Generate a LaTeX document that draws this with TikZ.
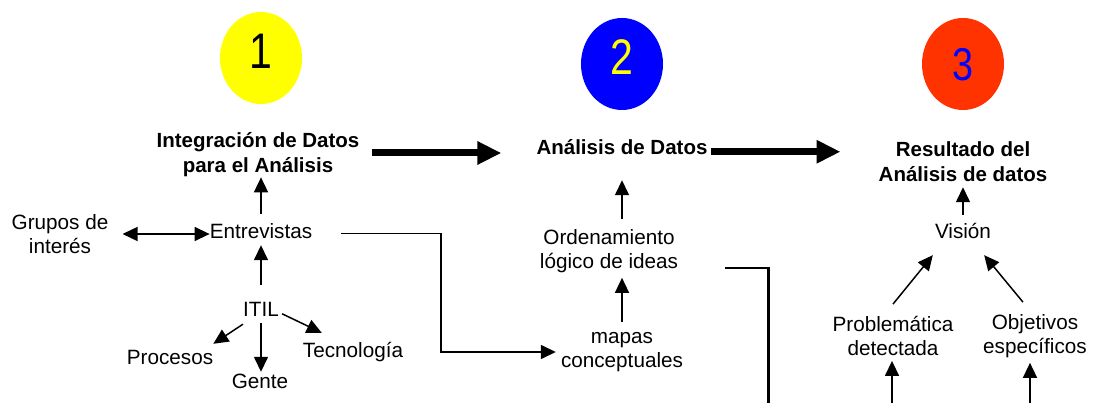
\documentclass[tikz,border=0pt]{standalone}
\usepackage{fontspec}
\setmainfont{Liberation Sans}
\usepackage{graphicx}
\usetikzlibrary{arrows.meta,shapes.geometric}
\definecolor{ylw}{RGB}{255,255,0}
\definecolor{blu}{RGB}{0,0,255}
\definecolor{org}{RGB}{255,51,0}
\begin{document}
\begin{tikzpicture}[x=1pt,y=-1pt,
  txt/.style={font=\fontsize{20.7}{24}\selectfont, inner sep=0pt, align=center},
  lbl/.style={txt, text height=15pt, text depth=4.5pt, anchor=base},
  bld/.style={font=\fontsize{20.5}{25}\selectfont\bfseries, inner sep=0pt, align=center},
  arr/.style={line width=1.5pt, -{Triangle[length=15pt,width=14pt]}},
  darr/.style={line width=1.5pt, {Triangle[length=15pt,width=14pt]}-{Triangle[length=15pt,width=14pt]}},
  big/.style={line width=7pt, -{Triangle[length=24pt,width=22pt]}},
  oval/.style={ellipse, minimum width=82pt, minimum height=92pt, inner sep=0pt},
  digit/.style={font=\fontsize{50}{50}\selectfont}
]
\useasboundingbox (0,0) rectangle (1096,403);
\fill[white] (0,0) rectangle (1096,403);

% numbered ovals
\node[oval, fill=ylw, digit, text height=36pt, text depth=14pt] (e1) at (261,58) {\scalebox{0.82}[1]{1}};
\node[oval, fill=blu, digit, text=ylw, text height=36pt, text depth=14pt] (e2) at (622,64) {\scalebox{0.82}[1]{2}};
\node[oval, fill=org, digit, text=blu, font=\fontsize{46}{46}\selectfont, text height=33pt, text depth=0pt] (e3) at (963,64) {\scalebox{0.82}[1]{3}};

% main stages
\node[bld] (int) at (258,155) {Integración de Datos\\para el Análisis};
\node[bld, anchor=base, text height=15pt, text depth=4.5pt] (ana) at (622,155) {Análisis de Datos};
\node[bld] (res) at (963,162) {Resultado del\\Análisis de datos};

% stage 1
\node[txt] (gru) at (60,234) {Grupos de\\interés};
\node[lbl] (ent) at (261,239) {Entrevistas};
\node[lbl] (itil) at (261,317) {ITIL};
\node[lbl] (proc) at (170,365) {Procesos};
\node[lbl] (gente) at (260,389) {Gente};
\node[lbl] (tec) at (353,358) {Tecnología};

% stage 2
\node[txt] (ord) at (609,251) {Ordenamiento\\lógico de ideas};
\node[txt] (map) at (622,352) {mapas\\conceptuales};

% stage 3
\node[lbl] (vis) at (963,239) {Visión};
\node[txt] (prob) at (893,336) {Problemática\\detectada};
\node[txt] (obj) at (1035,336) {Objetivos\\específicos};

% helper coordinates
\coordinate (k1) at (441,232);
\coordinate (k2) at (768,268);
\coordinate (b1) at (768,403);
\coordinate (b2) at (892,403);
\coordinate (b3) at (1030,403);

% thick stage arrows
\draw[big, shorten <=12pt, shorten >=35pt] ([yshift=2pt]int.east) -- ([yshift=2pt]int.east -| ana.west);
\draw[big, shorten <=3pt, shorten >=38pt] ([yshift=-2pt]ana.east) -- ([yshift=-2pt]ana.east -| res.west);

% stage 1 connectors
\draw[arr, shorten <=10pt] (ent.north) -- (ent.north |- int.south);
\draw[arr, shorten <=17pt, shorten >=1.5pt] (itil.north) -- (ent.south);
\draw[arr, shorten <=1.5pt, shorten >=2pt] (itil.south) -- (itil.south |- gente.north);
\draw[arr] ([yshift=-2.5pt]itil.south west) -- ([yshift=6pt]proc.north east);
\draw[arr] ([xshift=3pt,yshift=-2pt]itil.east) -- ([xshift=19pt,yshift=10pt]tec.north west);
\draw[darr, shorten <=14pt] (gru.east) -- (gru.east -| ent.west);
\draw[arr, shorten <=29pt, shorten >=5pt] (ent.east) -- (ent.east -| k1) -- (k1 |- map.west) -- (map.west);

% stage 2 connectors
\draw[arr, shorten <=10pt, shorten >=5pt] (map.north) -- (map.north |- ord.south);
\draw[arr, shorten <=10pt, shorten >=20.5pt] (ana.south |- ord.north) -- (ana.south);
\draw[line width=1.6pt, shorten <=47pt] (ord.east |- k2) -- (k2);
\draw[line width=3pt, shorten <=-0.8pt] (k2) -- (b1);

% stage 3 connectors
\draw[arr, shorten <=9pt, shorten >=5pt] (vis.north) -- (vis.north |- res.south);
\draw[arr] ([yshift=12pt]prob.north) -- ([xshift=-2pt,yshift=-11.5pt]vis.south west);
\draw[arr] ([xshift=-12pt,yshift=12pt]obj.north) -- ([xshift=-7pt,yshift=-11.5pt]vis.south east);
\draw[arr, shorten >=5pt] (b2) -- (b2 |- prob.south);
\draw[arr, shorten >=5pt] (b3) -- (b3 |- obj.south);
\end{tikzpicture}
\end{document}
